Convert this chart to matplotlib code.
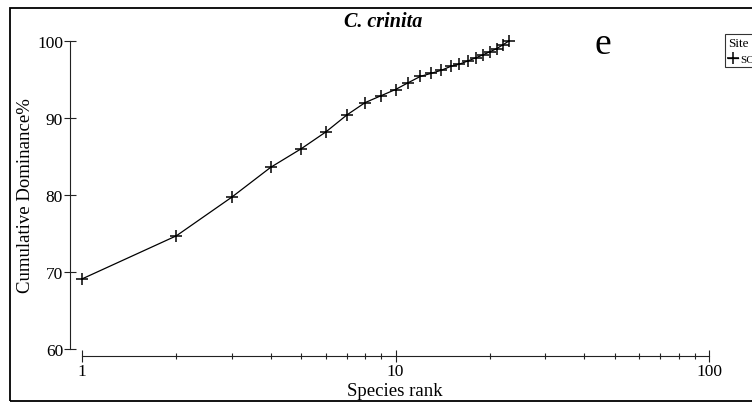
import numpy as np
import matplotlib.pyplot as plt
from matplotlib.patches import Rectangle
from matplotlib.ticker import FixedLocator, NullFormatter

plt.rcParams['font.family'] = ['Liberation Serif', 'DejaVu Serif']

# cumulative dominance curve
species_rank = [1, 2, 3, 4, 5, 6, 7, 8, 9, 10, 11, 12, 13, 14, 15, 16, 17, 18, 19, 20, 21, 22, 23]
cum_dominance = [69.1, 74.7, 79.7, 83.6, 86.0, 88.2, 90.4, 92.0, 92.9, 93.7, 94.6, 95.4,
                 95.8, 96.2, 96.7, 97.0, 97.4, 97.8, 98.2, 98.6, 99.0, 99.5, 100.0]
site_label = "SC"
y_ticks = [60, 70, 80, 90, 100]
x_ticks = [1, 10, 100]

W, H = 752, 406
fig = plt.figure(figsize=(W / 100, H / 100), dpi=100)
ax = fig.add_axes([82 / W, 1 - 350 / H, (709 - 82) / W, (350 - 42) / H])

ax.plot(species_rank, cum_dominance, color="black", lw=0.9, marker="+",
        ms=9, mew=1.1, label=site_label, clip_on=False)

ax.set_xscale("log")
ax.set_xlim(1, 100)
ax.set_ylim(60, 100)

for s in ["top", "right"]:
    ax.spines[s].set_visible(False)
ax.spines["left"].set_position(("outward", 12 * 0.72))
ax.spines["bottom"].set_position(("outward", 7 * 0.72))
for s in ["left", "bottom"]:
    ax.spines[s].set_linewidth(0.8)
    ax.spines[s].set_color("#222222")

ax.set_yticks(y_ticks)
ax.set_xticks(x_ticks)
ax.set_xticklabels([str(t) for t in x_ticks])
minor = [m * d for d in (1, 10) for m in range(2, 10)]
ax.xaxis.set_minor_locator(FixedLocator(minor))
ax.xaxis.set_minor_formatter(NullFormatter())
ax.tick_params(axis="y", direction="inout", length=8, width=0.8, labelsize=12.5, pad=1, color="#222222")
ax.tick_params(axis="x", which="major", direction="inout", length=8, width=0.8, labelsize=12.5, pad=1, color="#222222")
ax.tick_params(axis="x", which="minor", direction="inout", length=4, width=0.8, color="#222222")

fig.text(395 / W, 1 - 392 / H, "Species rank", ha="center", va="center", fontsize=13.5)
fig.text(26 / W, 1 - 196 / H, "Cumulative Dominance%", ha="center", va="center",
         rotation=90, fontsize=13.5)
fig.text(383 / W, 1 - 22 / H, "C. crinita", ha="center", va="center",
         fontsize=14.5, fontweight="bold", fontstyle="italic")
fig.text(603 / W, 1 - 45 / H, "e", ha="center", va="center", fontsize=27)

leg = fig.legend(title="Site", loc="upper left", bbox_to_anchor=(725 / W, 1 - 35 / H),
                 fontsize=8, title_fontsize=9.5, frameon=True, fancybox=False,
                 edgecolor="black", borderpad=0.25, handlelength=0.9, handletextpad=0.2,
                 borderaxespad=0)
leg._legend_box.align = "left"
leg.get_frame().set_linewidth(0.8)

fig.patches.append(Rectangle((10 / W, 1 - 402 / H), 1.1, (402 - 9) / H,
                             transform=fig.transFigure, fill=False,
                             edgecolor="black", lw=1.3))

fig.savefig("out.png", dpi=100)
